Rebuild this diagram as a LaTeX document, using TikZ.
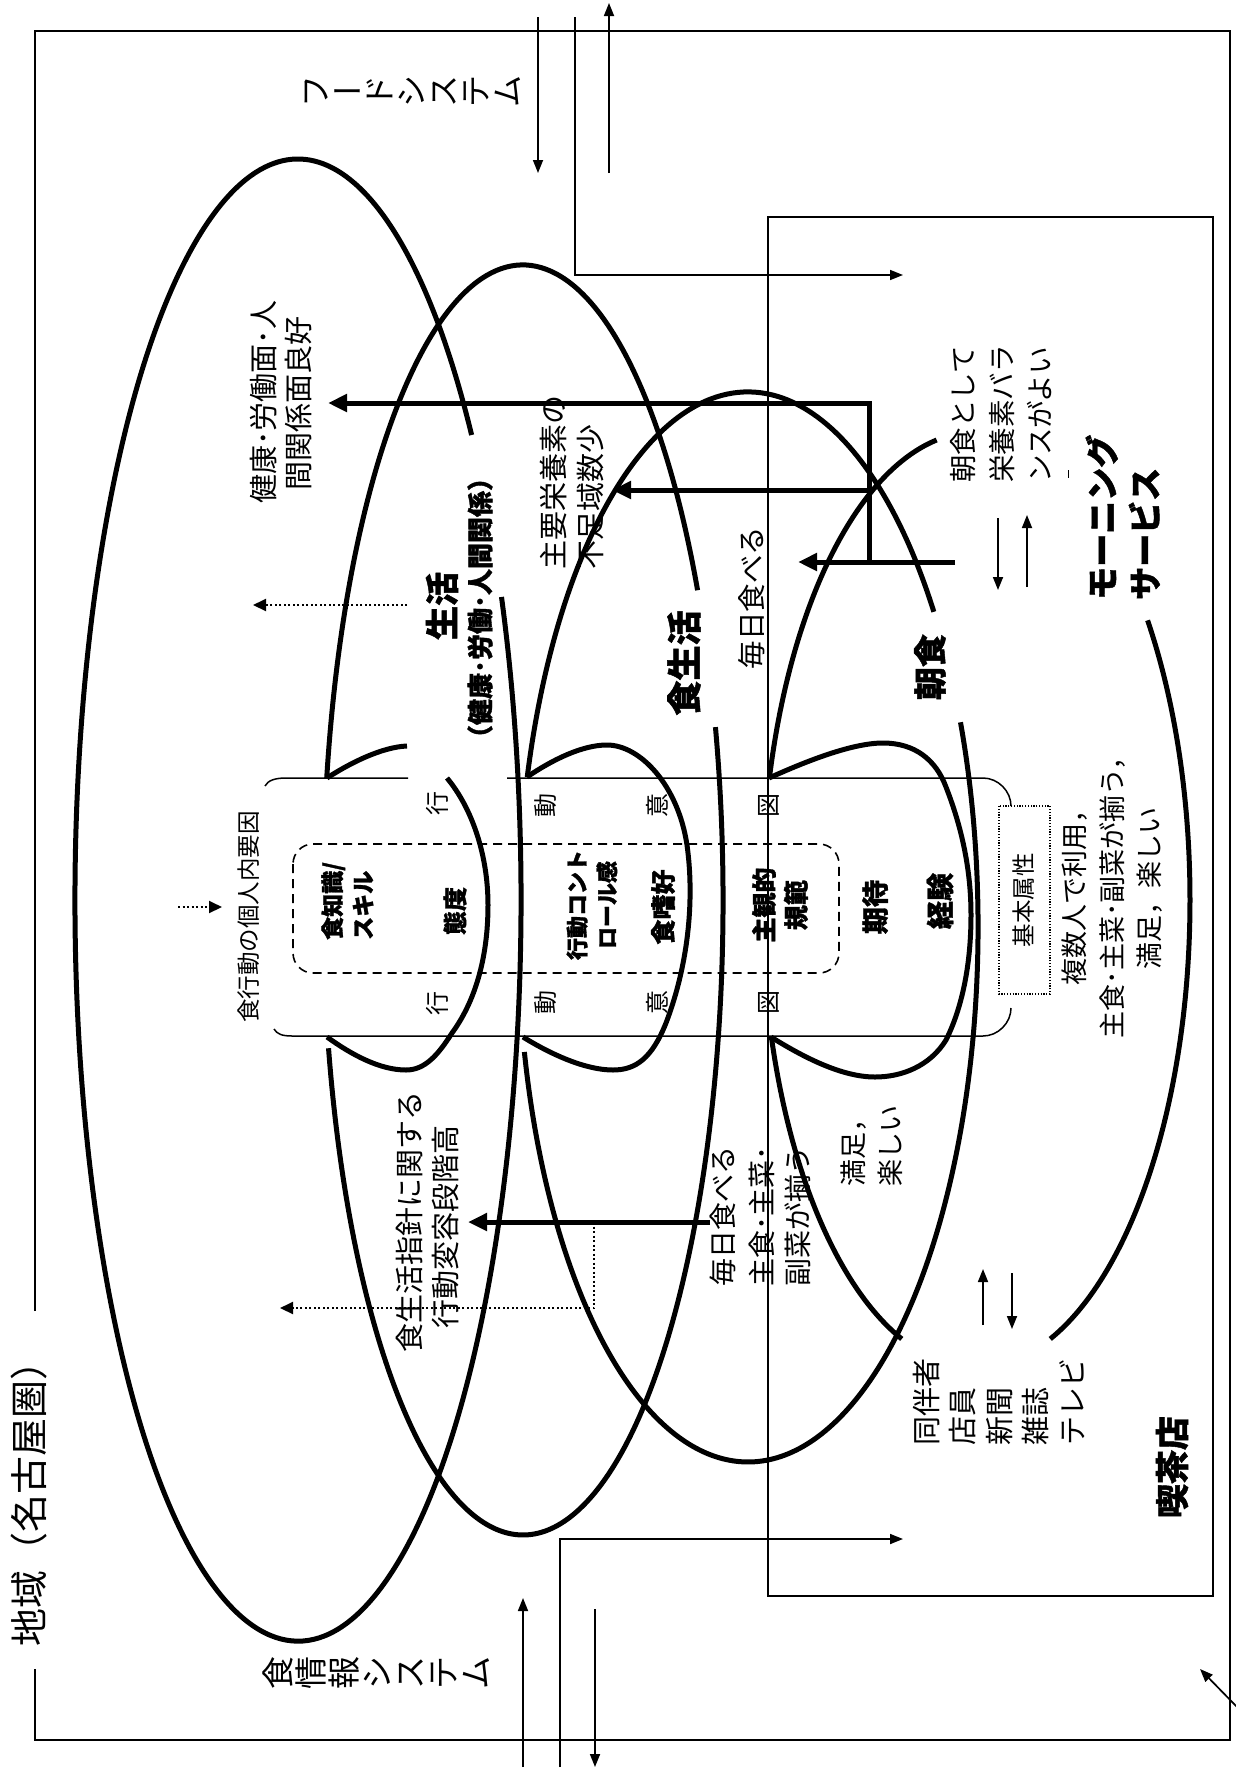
\documentclass[tikz,border=0pt]{standalone}
\usepackage{fontspec}
\setmainfont{Noto Sans CJK JP}[BoldFeatures={FakeBold=1.3}]
\usetikzlibrary{arrows.meta}
\newcommand\tc[1]{\rotatebox{90}{\rule[-0.12em]{0pt}{1em}#1}}
\newcommand\tbar{\raisebox{0.12em}{ー}}
\newcommand\fsz[1]{\fontsize{#1}{#1}\selectfont}
\newcommand\strt{\rule[-0.12em]{0pt}{1em}}
\newcommand\ovarc[6]{\draw[oval] ([shift={(#5:#3 and #4)}]#1,#2) arc[start angle=#5,end angle=#6,x radius=#3,y radius=#4];}
\begin{document}
\begin{tikzpicture}[x=1pt,y=-1pt,
  oval/.style={line width=5pt},
  capl/.style={line width=1.5pt},
  thinln/.style={line width=1.7pt},
  tarrow/.style={line width=1.7pt,-{Triangle[length=13pt,width=10pt]}},
  barrow/.style={line width=5pt,line join=miter,-{Triangle[length=19pt,width=17pt]}},
  darrow/.style={line width=2pt,dash pattern=on 2pt off 2.5pt,-{Triangle[length=13pt,width=12pt]}},
  txt/.style={rotate=90,inner sep=0pt,execute at begin node=\strt},
]
\useasboundingbox (0,0) rectangle (1235,1780);
\fill[white] (0,0) rectangle (1235,1780);

% outer frame (region)
\draw[thinln] (35,1311) -- (35,31) -- (1230,31) -- (1230,1740) -- (35,1740) -- (35,1669);
% coffee shop box
\draw[thinln] (768,217) rectangle (1213,1596);

% ovals
\ovarc{298}{900}{223}{741}{335.86}{681.13}
\ovarc{523}{900}{200}{635}{344.2}{526.5}
\ovarc{523}{900}{200}{635}{191.07}{330.8}
\ovarc{748}{927}{230}{535}{337.5}{526.49}
\ovarc{748}{927}{230}{535}{196.28}{323.9}
\ovarc{976}{900}{214}{468}{195.11}{259.4}
\ovarc{976}{900}{214}{468}{323.3}{429.7}
\ovarc{976}{900}{214}{468}{110.3}{163.0}
\draw[line width=1pt] (1068,470) -- (1068,478);

% lenses inside the capsule
\draw[oval] (327,778) .. controls (350,763) and (382,747) .. (407,746);
\draw[oval] (447,778) .. controls (472,808) and (488,855) .. (488,905) .. controls (488,960) and (474,1003) .. (452,1033) .. controls (438,1055) and (425,1070) .. (406,1070) .. controls (380,1070) and (352,1055) .. (327,1037);
\draw[oval] (527,777) .. controls (552,760) and (582,745) .. (607,745) .. controls (640,745) and (678,785) .. (687,845) .. controls (694,895) and (690,960) .. (666,1023) .. controls (652,1058) and (636,1070) .. (613,1070) .. controls (586,1070) and (552,1055) .. (523,1037);
\draw[oval] (769,778) .. controls (800,764) and (850,743) .. (883,743) .. controls (915,743) and (936,760) .. (946,787) .. controls (962,828) and (971,870) .. (971,915) .. controls (971,965) and (962,1008) .. (946,1040) .. controls (930,1066) and (902,1077) .. (875,1077) .. controls (840,1077) and (800,1055) .. (771,1037);

% capsule (individual factors)
\draw[capl] (265,786) .. controls (268,780) and (276,778) .. (286,778) -- (408,778);
\draw[capl] (507,778) -- (983,778) .. controls (998,778) and (1011,791) .. (1011,806);
\draw[capl] (274,1029) .. controls (277,1034) and (282,1036) .. (292,1036) -- (983,1036) .. controls (998,1036) and (1011,1023) .. (1011,1008);
\draw[line width=1.6pt,dash pattern=on 9pt off 6pt,rounded corners=20pt] (293,844) rectangle (839,973);
\draw[line width=1.2pt,dash pattern=on 1.2pt off 1.6pt] (999,806) rectangle (1050,994);

% texts
\node[txt,font=\fsz{38}] (region) at (29,1494) {地域（名古屋圏）};
\node[inner sep=0pt,font=\fsz{33}] (foodinfo) at (377,1673) {\tc{食}\tc{情}\tc{報}\tc{シ}\tc{ス}\tc{テ}\tc{ム}};
\node[inner sep=0pt,font=\fsz{32}] (foodsys) at (411,91) {\tc{フ}\tbar\tc{ド}\tc{シ}\tc{ス}\tc{テ}\tc{ム}};
\node[txt,font=\fsz{23.5}] (intra) at (249,917) {食行動の個人内要因};

\node[txt,font=\fsz{24}] (k1) at (437,803) {行};
\node[txt,font=\fsz{24}] (d1) at (545,805) {動};
\node[txt,font=\fsz{24}] (i1) at (657,805) {意};
\node[txt,font=\fsz{24}] (z1) at (768,805) {図};
\node[txt,font=\fsz{24}] (k2) at (437,1003) {行};
\node[txt,font=\fsz{24}] (d2) at (545,1002) {動};
\node[txt,font=\fsz{24}] (i2) at (657,1002) {意};
\node[txt,font=\fsz{24}] (z2) at (768,1002) {図};

\node[txt,font=\fsz{23}\bfseries,anchor=west] (fk1) at (333,940) {食知識/};
\node[txt,font=\fsz{23}\bfseries,anchor=west] (fk2) at (363,940) {スキル};
\node[txt,font=\fsz{24}\bfseries] (taido) at (455,911) {態度};
\node[txt,font=\fsz{22}\bfseries] (kc1) at (577,905) {行動コント};
\node[txt,font=\fsz{22}\bfseries] (kc2) at (607,905) {ロール感};
\node[txt,font=\fsz{25}\bfseries] (shiko) at (663,907) {食嗜好};
\node[txt,font=\fsz{25}\bfseries] (sk1) at (764,905) {主観的};
\node[txt,font=\fsz{25}\bfseries] (sk2) at (796,905) {規範};
\node[txt,font=\fsz{27}\bfseries] (kitai) at (875,907) {期待};
\node[txt,font=\fsz{28}\bfseries] (keiken) at (940,901) {経験};
\node[txt,font=\fsz{23.5}] (kihon) at (1024,900) {基本属性};

\node[txt,font=\fsz{27}] (mr1) at (1074,891) {複数人で利用，};
\node[txt,font=\fsz{27}] (mr2) at (1112,891) {主食･主菜･副菜が揃う，};
\node[txt,font=\fsz{27}] (mr3) at (1149,888) {満足，楽しい};

\node[txt,font=\fsz{34}\bfseries] (seikatsu) at (442,606) {生活};
\node[txt,font=\fsz{26}\bfseries] (seikatsub) at (480,608) {（健康･労働･人間関係）};
\node[txt,font=\fsz{29}] (kk1) at (263,402) {健康･労働面･人};
\node[txt,font=\fsz{29}] (kk2) at (298,403) {間関係面良好};
\node[txt,font=\fsz{29},anchor=west] (sy1) at (553,570) {主要栄養素の};
\node[txt,font=\fsz{29},anchor=west] (sy2) at (590,570) {不足域数少};

\node[txt,font=\fsz{35}\bfseries] (shokuseikatsu) at (684,663) {食生活};
\node[txt,font=\fsz{28.5}] (mainichi) at (752,598) {毎日食べる};
\node[txt,font=\fsz{33}\bfseries] (choshoku) at (930,667) {朝食};
\node[txt,font=\fsz{27.5},anchor=west] (ct1) at (963,483) {朝食として};
\node[txt,font=\fsz{27.5},anchor=west] (ct2) at (1002,483) {栄養素バラ};
\node[txt,font=\fsz{27.5},anchor=west] (ct3) at (1040,483) {ンスがよい};
\node[txt,font=\fsz{33}\bfseries,anchor=west] (ms1) at (1102,600) {モーニング};
\node[txt,font=\fsz{33}\bfseries,anchor=west] (ms2) at (1145,600) {サービス};

\node[txt,font=\fsz{28},anchor=west] (ml1) at (723,1287) {毎日食べる};
\node[txt,font=\fsz{28},anchor=west] (ml2) at (762,1287) {主食･主菜･};
\node[txt,font=\fsz{28},anchor=west] (ml3) at (798,1287) {副菜が揃う};
\node[txt,font=\fsz{27},anchor=west] (mz1) at (853,1187) {満足，};
\node[txt,font=\fsz{27},anchor=west] (mz2) at (890,1187) {楽しい};
\node[txt,font=\fsz{29}] (sg1) at (409,1222) {食生活指針に関する};
\node[txt,font=\fsz{29}] (sg2) at (445,1227) {行動変容段階高};
\node[txt,font=\fsz{29},anchor=west] (c1) at (926,1446) {同伴者};
\node[txt,font=\fsz{29},anchor=west] (c2) at (962,1446) {店員};
\node[txt,font=\fsz{29},anchor=west] (c3) at (999,1446) {新聞};
\node[txt,font=\fsz{29},anchor=west] (c4) at (1035,1446) {雑誌};
\node[txt,font=\fsz{29},anchor=west] (c5) at (1072,1446) {テレビ};
\node[txt,font=\fsz{34}\bfseries] (kissa) at (1172,1467) {喫茶店};

% coordinates for connector ends
\coordinate (fsA0) at (538,17);   \coordinate (fsA1) at (538,173);
\coordinate (fsB0) at (575,17);   \coordinate (fsB1) at (575,275);  \coordinate (fsB2) at (903,275);
\coordinate (fsC0) at (609,173);  \coordinate (fsC1) at (609,3);
\coordinate (fiA0) at (523,1767); \coordinate (fiA1) at (523,1598);
\coordinate (fiB0) at (560,1767); \coordinate (fiB1) at (560,1539); \coordinate (fiB2) at (903,1539);
\coordinate (fiC0) at (595,1609); \coordinate (fiC1) at (595,1767);
\coordinate (corner0) at (1237,1707); \coordinate (corner1) at (1200,1669);
\coordinate (u0) at (998,518);  \coordinate (u1) at (998,590);
\coordinate (u2) at (1027,587); \coordinate (u3) at (1027,515);
\coordinate (w0) at (983,1325); \coordinate (w1) at (983,1269);
\coordinate (w2) at (1012,1273); \coordinate (w3) at (1012,1329);
\coordinate (tb0) at (955,562); \coordinate (tb1) at (798,562);
\coordinate (tv0) at (869,562); \coordinate (tv1) at (869,403); \coordinate (tv2) at (328,403);
\coordinate (tm0) at (869,490); \coordinate (tm1) at (612,490);
\coordinate (lo0) at (710,1222); \coordinate (lo1) at (468,1222);
\coordinate (ld0) at (594,1222); \coordinate (ld1) at (594,1308); \coordinate (ld2) at (280,1308);
\coordinate (ud0) at (407,605); \coordinate (ud1) at (253,605);
\coordinate (sd0) at (178,907); \coordinate (sd1) at (222,907);

% thin arrows of the food system / food information system
\draw[tarrow] (fsA0) -- (fsA1);
\draw[tarrow] (fsB0) -- (fsB1) -- (fsB2);
\draw[tarrow] (fsC0) -- (fsC1);
\draw[tarrow] (fiA0) -- (fiA1);
\draw[tarrow] (fiB0) -- (fiB1) -- (fiB2);
\draw[tarrow] (fiC0) -- (fiC1);
\draw[tarrow] (corner0) -- (corner1);
\draw[tarrow] (u0) -- (u1);
\draw[tarrow] (u2) -- (u3);
\draw[tarrow] (w0) -- (w1);
\draw[tarrow] (w2) -- (w3);

% thick arrows
\draw[barrow] (tb0) -- (tb1);
\draw[barrow] (tv0) -- (tv1) -- (tv2);
\draw[barrow] (tm0) -- (tm1);
\draw[barrow] (lo0) -- (lo1);

% dotted arrows
\draw[darrow] (ld0) -- (ld1) -- (ld2);
\draw[darrow] (ud0) -- (ud1);
\draw[darrow] (sd0) -- (sd1);
\end{tikzpicture}
\end{document}
